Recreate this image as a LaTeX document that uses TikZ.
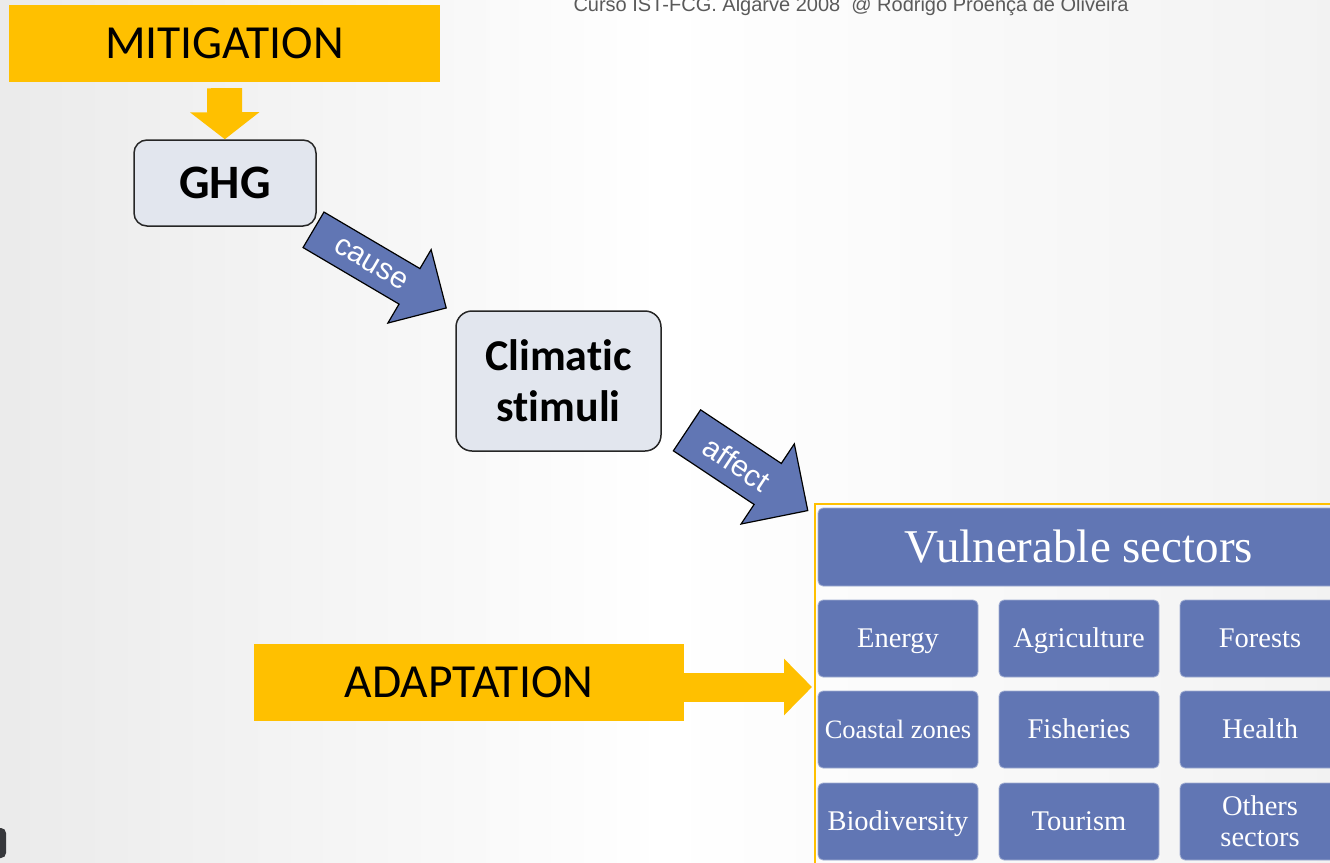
\documentclass[tikz,border=0pt]{standalone}
\usepackage{fontspec}
\setmainfont{Liberation Serif}
\newfontfamily\calibri[Ligatures=NoCommon]{Carlito}
\newfontfamily\arial{Liberation Sans}
\usepackage{tikz}
\usetikzlibrary{arrows.meta}
\usetikzlibrary{shapes.arrows}
\usetikzlibrary{positioning}
\definecolor{mitorange}{RGB}{255,192,0}
\definecolor{boxgrey}{RGB}{226,230,238}
\definecolor{sectorblue}{RGB}{97,118,180}
\definecolor{notegrey}{RGB}{90,90,90}

\tikzset{
  orangebox/.style={fill=mitorange, minimum width=431pt, minimum height=77pt, inner sep=0pt,
    font=\calibri\fontsize{47.5}{56}\selectfont},
  greybox/.style={draw=black!85, line width=1.5pt, fill=boxgrey, rounded corners=13pt,
    align=center, font=\calibri\bfseries\fontsize{44}{51}\selectfont},
  bluearrow/.style={single arrow, draw=black, line width=1.2pt, fill=sectorblue, text=white,
    single arrow head indent=0pt, inner xsep=2pt, text depth=0pt, anchor=tail,
    font=\arial\fontsize{30}{34}\selectfont},
  yellowarrow/.style={draw=mitorange, -{Triangle[length=27pt, width=68pt]}},
  sectorbase/.style={fill=sectorblue, draw=sectorblue!60!white, line width=0.8pt, rounded corners=5pt,
    minimum width=160pt, minimum height=77pt, inner sep=2pt, text=white, align=center,
    font=\fontsize{28.5}{31}\selectfont},
  sector/.style={sectorbase, text height=22pt, text depth=4pt}
}

\begin{document}
\begin{tikzpicture}[x=1pt, y=-1pt]
		\useasboundingbox (0,0) rectangle (1330,862);
		\clip (0,0) rectangle (1330,862);
		\shade[left color=black!8, right color=black!5, middle color=white] (0,0) rectangle (1330,862);

		% slide footer
		\node (note) at (851,12) [anchor=base, inner sep=0pt, text=notegrey, font=\arial\fontsize{20}{22}\selectfont] {Curso IST-FCG. Algarve 2008\ \ @ Rodrigo Proença de Oliveira};
		\fill[black!70!cyan!40!black, rounded corners=5pt] (-20,828) rectangle (6,858);

		% mitigation side
		\node (mit) at (224.5,43.5) [orangebox] {MITIGATION};
		\node (ghg) at (225,183) [greybox, minimum width=182pt, minimum height=86pt, font=\calibri\bfseries\fontsize{48}{52}\selectfont] {GHG};
		\draw[yellowarrow, line width=35pt, shorten <=6pt] (mit) -- (ghg);

		\node (clim) at (558.5,381) [greybox, minimum width=205pt, minimum height=140pt, rounded corners=16pt] {Climatic\\stimuli};

		% block arrows
		\node (cause) at (313,229.5) [bluearrow, rotate=-30.5, text height=16pt, inner ysep=12pt, minimum height=154pt, minimum width=84pt, single arrow head extend=22pt] {cause};
		\node (affect) at (686.5,430) [bluearrow, rotate=-33.6, text height=22pt, inner ysep=13pt, minimum height=145pt, minimum width=95pt, single arrow head extend=23.5pt] {affect};

		% vulnerable sectors
		\node (vuln) at (814,503) [anchor=north west, draw=mitorange, line width=2pt, minimum width=540pt, minimum height=380pt] {};
		\node (head) at (1079,547) [sectorbase, minimum width=522pt, minimum height=78pt, text height=34pt, text depth=4pt, font=\fontsize{47}{52}\selectfont] {Vulnerable sectors};

		\node (energy) at (898,638.5) [sector] {Energy};
		\node (agri) at (1079,638.5) [sector] {Agriculture};
		\node (forest) at (1260,638.5) [sector] {Forests};
		\node (coast) at (898,729.5) [sector, font=\fontsize{26.5}{31}\selectfont] {Coastal zones};
		\node (fish) at (1079,729.5) [sector] {Fisheries};
		\node (health) at (1260,729.5) [sector] {Health};
		\node (biodiv) at (898,821.5) [sector] {Biodiversity};
		\node (tourism) at (1079,821.5) [sector] {Tourism};
		\node (others) at (1260,821.5) [sectorbase] {Others\\sectors};

		% adaptation side
		\node (adapt) at (469,682.5) [orangebox, minimum width=430pt] {ADAPTATION};
		\draw[draw=mitorange, line width=29pt, -{Triangle[length=28pt, width=55pt]}] ([yshift=-4.5pt]adapt.east) -- ([yshift=-4.5pt, xshift=-2pt]adapt.east -| vuln.west);
	\end{tikzpicture}
\end{document}
